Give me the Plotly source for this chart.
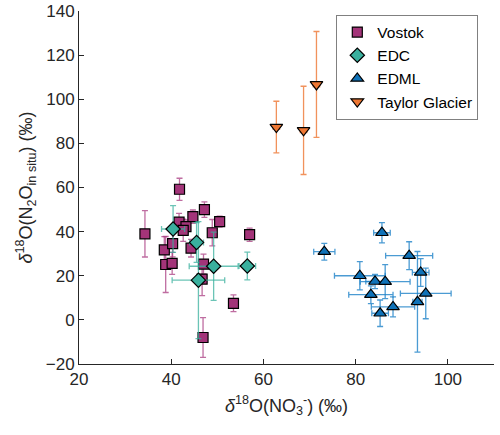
import plotly.graph_objects as go

# Vostok
vostok_x = [34.3, 41.8, 47.2, 50.5, 57.0, 53.5, 46.9, 48.9, 44.7, 41.7, 43.2, 42.6,
            44.3, 38.5, 40.3, 38.8, 40.2, 47.0, 46.7]
vostok_y = [39.0, 59.2, 50.0, 44.5, 38.6, 7.5, -8.0, 39.5, 46.8, 44.3, 42.3, 40.6,
            32.5, 31.7, 34.6, 25.1, 25.6, 25.3, 18.5]
vostok_xerr = [0.6, 0.6, 0.8, 0.7, 0.6, 0.6, 0.6, 0.7, 0.7, 0.6, 0.8, 0.8,
               0.6, 0.6, 0.6, 0.8, 0.6, 0.6, 0.6]
vostok_yerr = [10.5, 5.0, 3.5, 2.5, 3.0, 3.8, 9.0, 6.0, 3.0, 4.0, 3.0, 5.0,
               4.0, 6.0, 6.0, 12.7, 5.0, 4.5, 7.5]

# EDC
edc_x = [40.4, 45.5, 45.9, 49.2, 56.5]
edc_y = [41.2, 35.1, 18.0, 24.3, 24.4]
edc_xerr = [2.5, 1.5, 5.7, 5.3, 1.8]
edc_yerr = [10.6, 9.0, 26.5, 15.5, 6.3]

# EDML
edml_x = [73.2, 85.7, 91.6, 80.9, 84.2, 86.4, 94.1, 83.3, 95.2, 93.4, 88.1, 85.3]
edml_y = [30.9, 39.5, 29.1, 20.0, 17.4, 17.3, 21.5, 11.4, 12.0, 8.2, 5.9, 3.0]
edml_xerr = [2.3, 1.8, 5.1, 5.5, 2.0, 5.4, 1.8, 4.8, 5.5, 1.0, 4.7, 1.8]
edml_yerr = [3.8, 4.6, 6.3, 6.4, 3.2, 7.7, 6.3, 4.0, 11.5, 22.8, 4.5, 6.0]

# Taylor Glacier
taylor_x = [62.8, 68.7, 71.5]
taylor_y = [87.4, 85.9, 106.7]
taylor_xerr = [0.7, 0.7, 0.7]
taylor_yerr = [11.7, 20.0, 24.0]

FONT = "Liberation Sans, Arial, sans-serif"
INK = "#262626"

series = [
    ("Vostok", vostok_x, vostok_y, vostok_xerr, vostok_yerr,
     "square", 10, "#A33479", "rgba(170,60,130,0.75)"),
    ("EDC", edc_x, edc_y, edc_xerr, edc_yerr,
     "diamond", 11, "#3AB09E", "rgba(58,176,158,0.75)"),
    ("EDML", edml_x, edml_y, edml_xerr, edml_yerr,
     "triangle-up", 11, "#0F72B8", "rgba(30,130,200,0.8)"),
    ("Taylor Glacier", taylor_x, taylor_y, taylor_xerr, taylor_yerr,
     "triangle-down", 11, "#EE7733", "rgba(238,119,51,0.8)"),
]

fig = go.Figure()
for name, x, y, xe, ye, sym, size, fill, ecol in series:
    fig.add_trace(go.Scatter(
        x=x, y=y, mode="markers", name=name,
        marker=dict(symbol=sym, size=size, color=fill,
                    line=dict(color="black", width=1.2)),
        error_x=dict(type="data", array=xe, color=ecol, thickness=1.3, width=3),
        error_y=dict(type="data", array=ye, color=ecol, thickness=1.3, width=3),
    ))

fig.update_layout(
    width=500, height=435,
    margin=dict(l=79, r=6, t=11, b=71),
    plot_bgcolor="white", paper_bgcolor="white",
    font=dict(family=FONT, size=17, color=INK),
    showlegend=True,
    legend=dict(x=0.62, y=0.99, xanchor="left", yanchor="top",
                bordercolor="#808080", borderwidth=1, bgcolor="white",
                font=dict(size=15.5, color="black"), tracegroupgap=0),
)
fig.update_xaxes(
    range=[20, 110], tickvals=[20, 40, 60, 80, 100], automargin=False,
    showline=True, linecolor=INK, linewidth=1, mirror=False,
    ticks="inside", ticklen=5, tickcolor=INK, showgrid=False, zeroline=False,
    title=dict(text="<i>δ</i><sup>18</sup>O(NO<sub>3</sub><sup>-</sup>) (‰)",
               font=dict(size=18), standoff=10),
)
fig.update_yaxes(
    range=[-20, 140], tickvals=[-20, 0, 20, 40, 60, 80, 100, 120, 140], automargin=False,
    showline=True, linecolor=INK, linewidth=1, mirror=False,
    ticks="inside", ticklen=5, tickcolor=INK, showgrid=False, zeroline=False,
    title=dict(text="<i>δ</i><sup>18</sup>O(N<sub>2</sub>O<sub>in situ</sub>) (‰)",
               font=dict(size=18), standoff=8),
)

# drop the default page margin so the 500x435 figure sits at the window origin
fig.write_html("out.html", config={"displayModeBar": False},
               post_script="document.body.style.margin='0';")
